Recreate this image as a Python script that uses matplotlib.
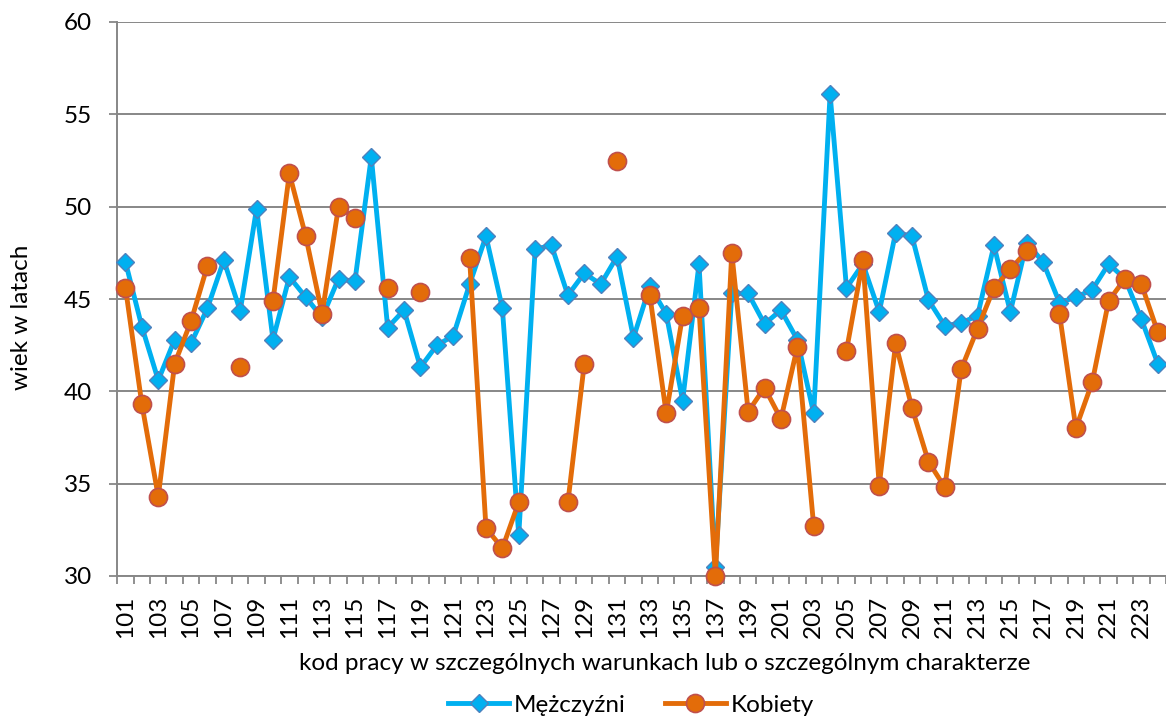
import numpy as np
import matplotlib
matplotlib.use("Agg")
import matplotlib.pyplot as plt

plt.rcParams['font.family'] = ['Lato', 'DejaVu Sans']

codes = ['101', '102', '103', '104', '105', '106', '107', '108', '109', '110',
         '111', '112', '113', '114', '115', '116', '117', '118', '119', '120',
         '121', '122', '123', '124', '125', '126', '127', '128', '129', '130',
         '131', '132', '133', '134', '135', '136', '137', '138', '139', '140',
         '201', '202', '203', '204', '205', '206', '207', '208', '209', '210',
         '211', '212', '213', '214', '215', '216', '217', '218', '219', '220',
         '221', '222', '223', '224']

men = [47.0, 43.5, 40.6, 42.8, 42.6, 44.5, 47.1, 44.35, 49.9, 42.8,
       46.2, 45.1, 44.0, 46.1, 45.95, 52.7, 43.45, 44.4, 41.3, 42.5,
       43.0, 45.8, 48.4, 44.5, 32.2, 47.7, 47.9, 45.2, 46.4, 45.8,
       47.3, 42.9, 45.7, 44.2, 39.5, 46.9, 30.5, 45.3, 45.3, 43.65,
       44.4, 42.8, 38.8, 56.1, 45.6, 46.9, 44.3, 48.6, 48.4, 44.95,
       43.55, 43.7, 44.1, 47.9, 44.3, 48.05, 47.0, 44.8, 45.1, 45.5,
       46.9, 46.1, 43.9, 41.5]

nan = np.nan
women = [45.6, 39.3, 34.3, 41.5, 43.8, 46.8, nan, 41.3, nan, 44.9,
         51.8, 48.4, 44.2, 50.0, 49.4, nan, 45.6, nan, 45.4, nan,
         nan, 47.2, 32.6, 31.5, 34.0, nan, nan, 34.0, 41.5, nan,
         52.5, nan, 45.2, 38.8, 44.1, 44.5, 30.0, 47.5, 38.9, 40.2,
         38.5, 42.4, 32.7, nan, 42.2, 47.1, 34.9, 42.6, 39.1, 36.2,
         34.8, 41.2, 43.4, 45.6, 46.6, 47.6, nan, 44.2, 38.0, 40.5,
         44.9, 46.1, 45.8, 43.2]

series_names = ['Mężczyźni', 'Kobiety']
yticks = [30, 35, 40, 45, 50, 55, 60]

FS = 17.5
W, H = 1166, 718
fig = plt.figure(figsize=(W / 100, H / 100), dpi=100)
x0, x1 = 117.3, 1166
y0, y1 = 22, 576
ax = fig.add_axes([x0 / W, 1 - y1 / H, (x1 - x0) / W, (y1 - y0) / H])

x = np.arange(len(codes))
grid_c = '#878787'

ax.plot(x, men, color='#00B0F0', lw=3.5, marker='D', ms=9.5,
        mfc='#00B0F0', mec='#4F81BD', mew=1.0, zorder=3, clip_on=False,
        label=series_names[0])
ax.plot(x, women, color='#E36C09', lw=3.5, marker='o', ms=13,
        mfc='#E36C09', mec='#C0504D', mew=1.2, zorder=4, clip_on=False,
        label=series_names[1])

step = (x1 - x0) / 16.45
ax.set_xlim(-0.5, -0.5 + step)
ax.set_ylim(30, 60)
ax.set_yticks(yticks)
for yv in yticks:
    ax.axhline(yv, color=grid_c, lw=1.4, zorder=1)

ax.set_xticks(x[::2])
ax.set_xticklabels(codes[::2], rotation=90)
ax.set_xticks(np.arange(len(codes) + 1) - 0.5, minor=True)
ax.tick_params(axis='x', which='major', length=0, pad=14, labelsize=FS)
ax.tick_params(axis='x', which='minor', length=6, width=1.3, color=grid_c)
ax.tick_params(axis='y', length=6, width=1.3, color=grid_c, pad=12,
               labelsize=FS)

for s in ['top', 'right']:
    ax.spines[s].set_visible(False)
for s in ['left', 'bottom']:
    ax.spines[s].set_color(grid_c)
    ax.spines[s].set_linewidth(1.4)

fig.text(665 / W, 1 - 663 / H,
         'kod pracy w szczególnych warunkach lub o szczególnym charakterze',
         ha='center', va='center', fontsize=FS)
fig.text(22 / W, 1 - 317 / H, 'wiek w latach', rotation=90,
         ha='center', va='center', fontsize=FS)

fig.legend(loc='center', bbox_to_anchor=(631 / W, 1 - 705 / H), ncol=2,
           frameon=False, fontsize=FS, handlelength=2.5,
           handletextpad=0.2, columnspacing=1.6, borderpad=0)

fig.savefig('out.png', dpi=100)
